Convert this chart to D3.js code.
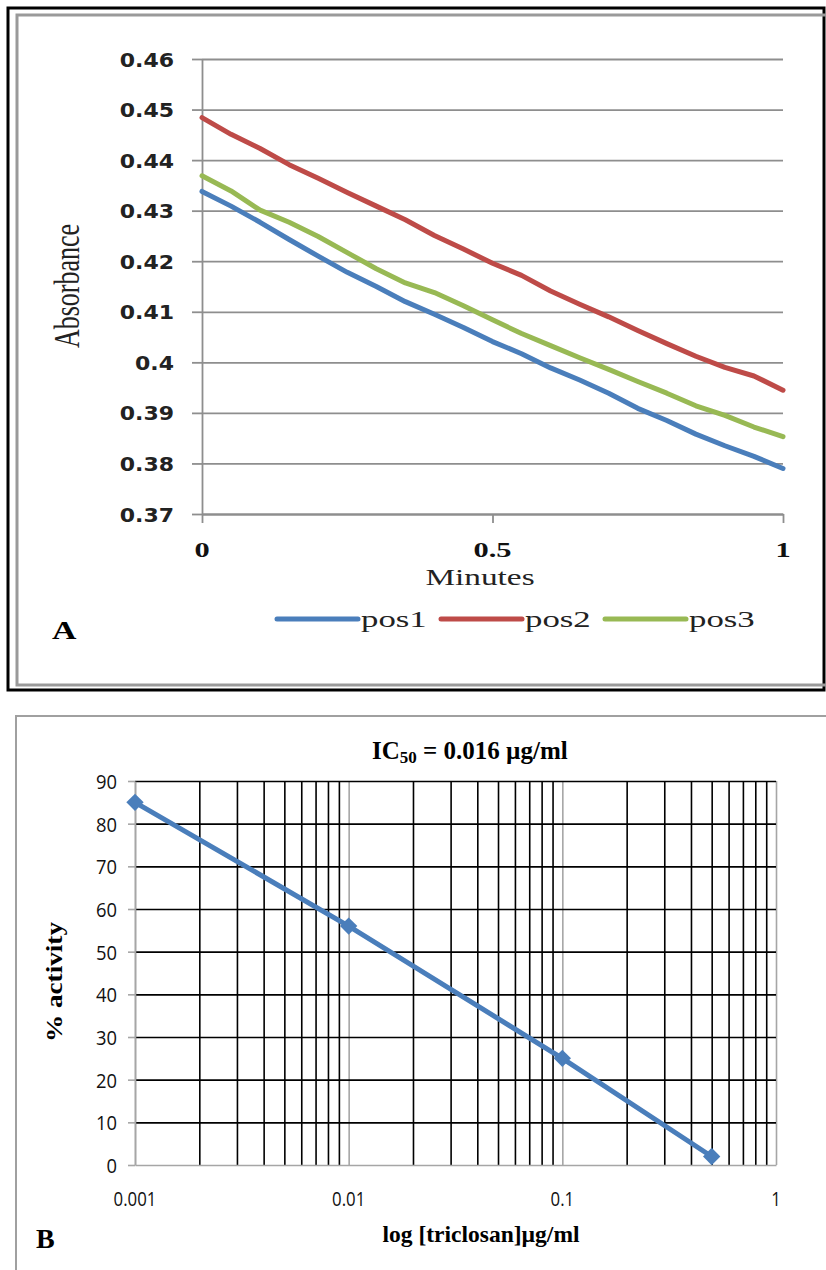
<!DOCTYPE html>
<html>
<head>
<meta charset="utf-8">
<script src="https://cdn.jsdelivr.net/npm/d3@7"></script>
<style>
  body { margin: 0; background: #fff; }
  svg { display: block; }
</style>
</head>
<body>
<div class="chart"></div>
<script>
// panel A data: absorbance vs minutes
var minutes = [0, 0.05, 0.10, 0.15, 0.20, 0.25, 0.30, 0.35, 0.40, 0.45, 0.50,
               0.55, 0.60, 0.65, 0.70, 0.75, 0.80, 0.85, 0.90, 0.95, 1.00];
var pos1 = [0.4338, 0.4309, 0.4277, 0.4243, 0.4210, 0.4178, 0.4150, 0.4120, 0.4095, 0.4069, 0.4041,
            0.4017, 0.3989, 0.3965, 0.3939, 0.3909, 0.3885, 0.3858, 0.3835, 0.3814, 0.3790];
var pos2 = [0.4484, 0.4451, 0.4423, 0.4391, 0.4364, 0.4336, 0.4309, 0.4282, 0.4251, 0.4224, 0.4196,
            0.4172, 0.4141, 0.4115, 0.4090, 0.4063, 0.4037, 0.4012, 0.3990, 0.3973, 0.3945];
var pos3 = [0.4369, 0.4339, 0.4301, 0.4277, 0.4249, 0.4217, 0.4185, 0.4157, 0.4138, 0.4112, 0.4084,
            0.4057, 0.4033, 0.4009, 0.3986, 0.3962, 0.3939, 0.3914, 0.3895, 0.3872, 0.3853];
var seriesNames = ['pos1', 'pos2', 'pos3'];
var absTicks = [0.37, 0.38, 0.39, 0.40, 0.41, 0.42, 0.43, 0.44, 0.45, 0.46];
var absTickLabels = ['0.37', '0.38', '0.39', '0.4', '0.41', '0.42', '0.43', '0.44', '0.45', '0.46'];
var minuteTicks = [0, 0.5, 1];
var minuteTickLabels = ['0', '0.5', '1'];

// panel B data: % activity vs triclosan
var conc = [0.001, 0.01, 0.1, 0.5];
var activity = [85, 56, 25, 2];
var actTicks = [0, 10, 20, 30, 40, 50, 60, 70, 80, 90];
var concTicks = [0.001, 0.01, 0.1, 1];
var concTickLabels = ['0.001', '0.01', '0.1', '1'];

var colors = ['#4a7ebb', '#be4b48', '#98b954'];
var width = 826, height = 1270;

var svg = d3.select('.chart').append('svg')
  .attr('width', width)
  .attr('height', height);

svg.append('rect').attr('width', width).attr('height', height).attr('fill', '#fff');

// text helper, sx stretches glyphs horizontally like the picture
function txt(g, x, y, s, o) {
  var tr = 'translate(' + x + ',' + y + ')';
  if (o.rot) tr += ' rotate(' + o.rot + ')';
  tr += ' scale(' + (o.sx || 1) + ',' + (o.sy || 1) + ')';
  return g.append('text')
    .attr('transform', tr)
    .attr('text-anchor', o.anchor || 'start')
    .attr('font-family', o.font || 'Liberation Serif')
    .attr('font-size', o.size || 20)
    .attr('font-weight', o.weight || 'normal')
    .attr('fill', o.fill || '#000')
    .text(s);
}

/// ---------- Panel A ----------
var gA = svg.append('g');

gA.append('rect')
  .attr('x', 8).attr('y', 8).attr('width', 816).attr('height', 682)
  .attr('fill', 'none').attr('stroke', '#000').attr('stroke-width', 3);
gA.append('rect')
  .attr('x', 17).attr('y', 15).attr('width', 840).attr('height', 670)
  .attr('fill', 'none').attr('stroke', '#9a9a9a').attr('stroke-width', 3);

var xA = d3.scaleLinear().domain([0, 1]).range([202, 783]);
var yA = d3.scaleLinear().domain([0.37, 0.46]).range([514, 59]);

// grid
gA.append('g')
  .attr('transform', 'translate(' + xA(0) + ',0)')
  .call(d3.axisLeft(yA).tickValues(absTicks).tickSize(-(xA(1) - xA(0))).tickFormat(''))
  .call(function(g) {
    g.select('.domain').remove();
    g.selectAll('line').attr('stroke', '#8e8e8e').attr('stroke-width', 1.8);
  });
// outward y ticks + axis line
gA.append('g')
  .attr('transform', 'translate(' + xA(0) + ',0)')
  .call(d3.axisLeft(yA).tickValues(absTicks).tickSize(10).tickSizeOuter(0).tickFormat(''))
  .call(function(g) {
    g.selectAll('line, path').attr('stroke', '#8e8e8e').attr('stroke-width', 1.8);
  });
// x axis ticks
gA.append('g')
  .attr('transform', 'translate(0,' + yA(0.37) + ')')
  .call(d3.axisBottom(xA).tickValues(minuteTicks).tickSize(9).tickSizeOuter(0).tickFormat(''))
  .call(function(g) {
    g.selectAll('line, path').attr('stroke', '#8e8e8e').attr('stroke-width', 1.8);
  });

absTicks.forEach(function(v, i) {
  txt(gA, 174, yA(v) + 7.5, absTickLabels[i],
    { anchor: 'end', font: 'DejaVu Sans', weight: 'bold', size: 20, sx: 1.1, fill: '#222' });
});
minuteTicks.forEach(function(v, i) {
  txt(gA, xA(v), 557, minuteTickLabels[i], { anchor: 'middle', size: 21, sx: 1.45, weight: 'bold', fill: '#111' });
});

txt(gA, 480, 585, 'Minutes', { anchor: 'middle', size: 23, sx: 1.45, fill: '#222' });
txt(gA, 79, 286, 'Absorbance', { anchor: 'middle', size: 26, rot: -90, sy: 1.4, fill: '#222' });
txt(gA, 52, 639, 'A', { size: 26, weight: 'bold', sx: 1.3 });

var seriesA = [pos1, pos2, pos3];
var lineA = d3.line()
  .x(function(d, i) { return xA(minutes[i]); })
  .y(function(d) { return yA(d); });

seriesA.forEach(function(s, i) {
  gA.append('path')
    .attr('d', lineA(s))
    .attr('fill', 'none')
    .attr('stroke', colors[i])
    .attr('stroke-width', 5)
    .attr('stroke-linejoin', 'round')
    .attr('stroke-linecap', 'round');
});

// legend
var legend = gA.append('g').attr('transform', 'translate(277,619)');
seriesNames.forEach(function(n, i) {
  var lx = i * 164;
  legend.append('line')
    .attr('x1', lx).attr('x2', lx + 81)
    .attr('y1', 0).attr('y2', 0)
    .attr('stroke', colors[i]).attr('stroke-width', 5).attr('stroke-linecap', 'round');
  txt(legend, lx + 84, 8, n, { size: 24, sx: 1.45, fill: '#222' });
});

/// ---------- Panel B ----------
var gB = svg.append('g');

gB.append('rect')
  .attr('x', 16).attr('y', 716).attr('width', 840).attr('height', 600)
  .attr('fill', 'none').attr('stroke', '#a0a0a0').attr('stroke-width', 2);

var xB = d3.scaleLog().domain([0.001, 1]).range([135, 776]);
var yB = d3.scaleLinear().domain([0, 90]).range([1165, 781]);

// vertical grid: minor black, decades gray
var logTicks = xB.ticks();
gB.append('g')
  .attr('transform', 'translate(0,' + yB(0) + ')')
  .call(d3.axisBottom(xB).tickValues(logTicks).tickSize(-(yB(0) - yB(90))).tickFormat(''))
  .call(function(g) {
    g.select('.domain').remove();
    g.selectAll('line')
      .attr('stroke', function(d) { return concTicks.indexOf(d) >= 0 ? '#a6a6a6' : '#000'; })
      .attr('stroke-width', 1.6);
  });
// horizontal grid
gB.append('g')
  .attr('transform', 'translate(' + xB(0.001) + ',0)')
  .call(d3.axisLeft(yB).tickValues(actTicks.slice(1)).tickSize(-(xB(1) - xB(0.001))).tickFormat(''))
  .call(function(g) {
    g.select('.domain').remove();
    g.selectAll('line').attr('stroke', '#000').attr('stroke-width', 1.6);
  });
// y axis with outward ticks
gB.append('g')
  .attr('transform', 'translate(' + xB(0.001) + ',0)')
  .call(d3.axisLeft(yB).tickValues(actTicks).tickSize(7).tickSizeOuter(0).tickFormat(''))
  .call(function(g) {
    g.selectAll('line, path').attr('stroke', '#a6a6a6').attr('stroke-width', 1.6);
  });
// x axis line
gB.append('g')
  .attr('transform', 'translate(0,' + yB(0) + ')')
  .call(d3.axisBottom(xB).tickValues(concTicks).tickSize(0).tickFormat(''))
  .call(function(g) {
    g.selectAll('line, path').attr('stroke', '#a6a6a6').attr('stroke-width', 1.6);
  });

actTicks.forEach(function(v) {
  txt(gB, 117, yB(v) + 8, String(v), { anchor: 'end', font: 'Open Sans', size: 20, sx: 0.92, fill: '#111' });
});
concTicks.forEach(function(v, i) {
  txt(gB, xB(v), 1206, concTickLabels[i], { anchor: 'middle', font: 'Open Sans', size: 20, sx: 0.84, fill: '#111' });
});

// title with subscript
var title = gB.append('text')
  .attr('x', 372).attr('y', 759)
  .attr('font-family', 'Liberation Serif')
  .attr('font-weight', 'bold')
  .attr('font-size', 25);
title.append('tspan').text('IC');
title.append('tspan').attr('font-size', 17).attr('dy', 4).text('50');
title.append('tspan').attr('dy', -4).text(' = 0.016 µg/ml');

txt(gB, 481, 1242, 'log [triclosan]µg/ml', { anchor: 'middle', size: 24, weight: 'bold', sx: 0.98 });
gB.append('text')
  .attr('transform', 'translate(62,982) rotate(-90)')
  .attr('text-anchor', 'middle')
  .attr('font-family', 'Liberation Serif')
  .attr('font-weight', 'bold')
  .attr('font-size', 23)
  .attr('textLength', 120)
  .attr('lengthAdjust', 'spacingAndGlyphs')
  .text('% activity');
txt(gB, 36, 1248, 'B', { size: 28, weight: 'bold' });

var lineB = d3.line()
  .x(function(d, i) { return xB(conc[i]); })
  .y(function(d) { return yB(d); });

gB.append('path')
  .attr('d', lineB(activity))
  .attr('fill', 'none')
  .attr('stroke', colors[0])
  .attr('stroke-width', 5);

gB.selectAll('.marker')
  .data(activity)
  .enter().append('path')
  .attr('class', 'marker')
  .attr('d', d3.symbol(d3.symbolSquare, 150))
  .attr('transform', function(d, i) {
    return 'translate(' + xB(conc[i]) + ',' + yB(d) + ') rotate(45)';
  })
  .attr('fill', colors[0]);
</script>
</body>
</html>
